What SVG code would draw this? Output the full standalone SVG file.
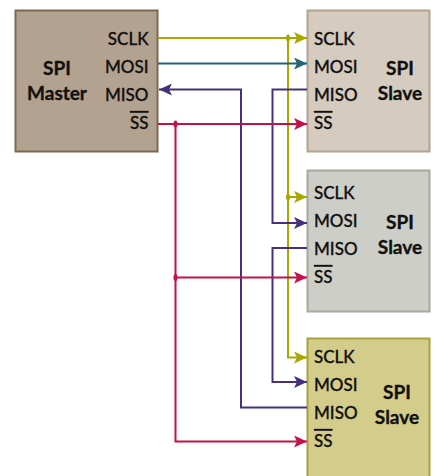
<svg xmlns="http://www.w3.org/2000/svg" width="436" height="476" viewBox="0 0 436 476">
<style>
text{font-family:"Lato","Noto Sans",sans-serif;font-size:17px;font-weight:500;fill:#111;stroke:#111;stroke-width:.3px}
.t{font-weight:700;text-anchor:middle;font-size:19px;stroke-width:.35px}
.e{text-anchor:end}
.w{fill:none;stroke-width:2}
.y{stroke:#a8a800}.g{stroke:#1f6478}.p{stroke:#46307c}.r{stroke:#c4114a}
.box{stroke-width:2}
</style>
<defs>
<marker id="ay" markerUnits="userSpaceOnUse" markerWidth="14" markerHeight="12" refX="13" refY="6" orient="auto"><path d="M0 0L13 6L0 12L3 6Z" fill="#a8a800"/></marker>
<marker id="ag" markerUnits="userSpaceOnUse" markerWidth="14" markerHeight="12" refX="13" refY="6" orient="auto"><path d="M0 0L13 6L0 12L3 6Z" fill="#1f6478"/></marker>
<marker id="ap" markerUnits="userSpaceOnUse" markerWidth="14" markerHeight="12" refX="13" refY="6" orient="auto"><path d="M0 0L13 6L0 12L3 6Z" fill="#46307c"/></marker>
<marker id="ar" markerUnits="userSpaceOnUse" markerWidth="14" markerHeight="12" refX="13" refY="6" orient="auto"><path d="M0 0L13 6L0 12L3 6Z" fill="#c4114a"/></marker>
</defs>
<g id="master">
<rect class="box" x="15.500" y="10.500" width="142" height="141" fill="#b3a290" stroke="#7d6850"/>
<text class="t" x="57" y="75">SPI</text><text class="t" x="57" y="100">Master</text>
<text class="e" x="148.500" y="45">SCLK</text><text class="e" x="148.500" y="73">MOSI</text><text class="e" x="148.500" y="101">MISO</text><text class="e" x="148.500" y="129" text-decoration="overline">SS</text>
</g>
<g id="slave1">
<rect class="box" x="307.500" y="10.500" width="122" height="141" fill="#d5cbbf" stroke="#b3a290"/>
<text class="t" x="400" y="75">SPI</text><text class="t" x="400" y="100">Slave</text>
<text x="314" y="45">SCLK</text><text x="314" y="73">MOSI</text><text x="314" y="101">MISO</text><text x="314" y="129" text-decoration="overline">SS</text>
</g>
<g id="slave2">
<rect class="box" x="307.500" y="170.500" width="122" height="141" fill="#cdcec7" stroke="#a6a89b"/>
<text class="t" x="400" y="229">SPI</text><text class="t" x="400" y="254">Slave</text>
<text x="314" y="199">SCLK</text><text x="314" y="227">MOSI</text><text x="314" y="255">MISO</text><text x="314" y="283" text-decoration="overline">SS</text>
</g>
<g id="slave3">
<rect class="box" x="307.500" y="338.500" width="122" height="142" fill="#d3cc8a" stroke="#a8a23c"/>
<text class="t" x="397" y="399">SPI</text><text class="t" x="397" y="424">Slave</text>
<text x="314" y="363">SCLK</text><text x="314" y="391">MOSI</text><text x="314" y="419">MISO</text><text x="314" y="447" text-decoration="overline">SS</text>
</g>
<g id="connectors">
<path class="w y" d="M158 38H307" marker-end="url(#ay)"/>
<path class="w y" d="M288 38V357.500H307" marker-end="url(#ay)"/>
<path class="w y" d="M288 197H307" marker-end="url(#ay)"/>
<path class="w g" d="M158 63.500H307" marker-end="url(#ag)"/>
<path class="w p" d="M307 407.500H241V89.500H159" marker-end="url(#ap)"/>
<path class="w p" d="M307 89.500H272.500V223H307" marker-end="url(#ap)"/>
<path class="w p" d="M307 248H272.500V382H307" marker-end="url(#ap)"/>
<path class="w r" d="M158 124H307" marker-end="url(#ar)"/>
<path class="w r" d="M175.500 124V441.500H307" marker-end="url(#ar)"/>
<path class="w r" d="M175.500 277.500H307" marker-end="url(#ar)"/>
<ellipse cx="288" cy="38" rx="2" ry="3.500" fill="#a8a800"/>
<ellipse cx="288" cy="197" rx="2" ry="3.500" fill="#a8a800"/>
<ellipse cx="175.500" cy="124" rx="2" ry="3.500" fill="#c4114a"/>
<ellipse cx="175.500" cy="277.500" rx="2" ry="3.500" fill="#c4114a"/>
</g>
</svg>
